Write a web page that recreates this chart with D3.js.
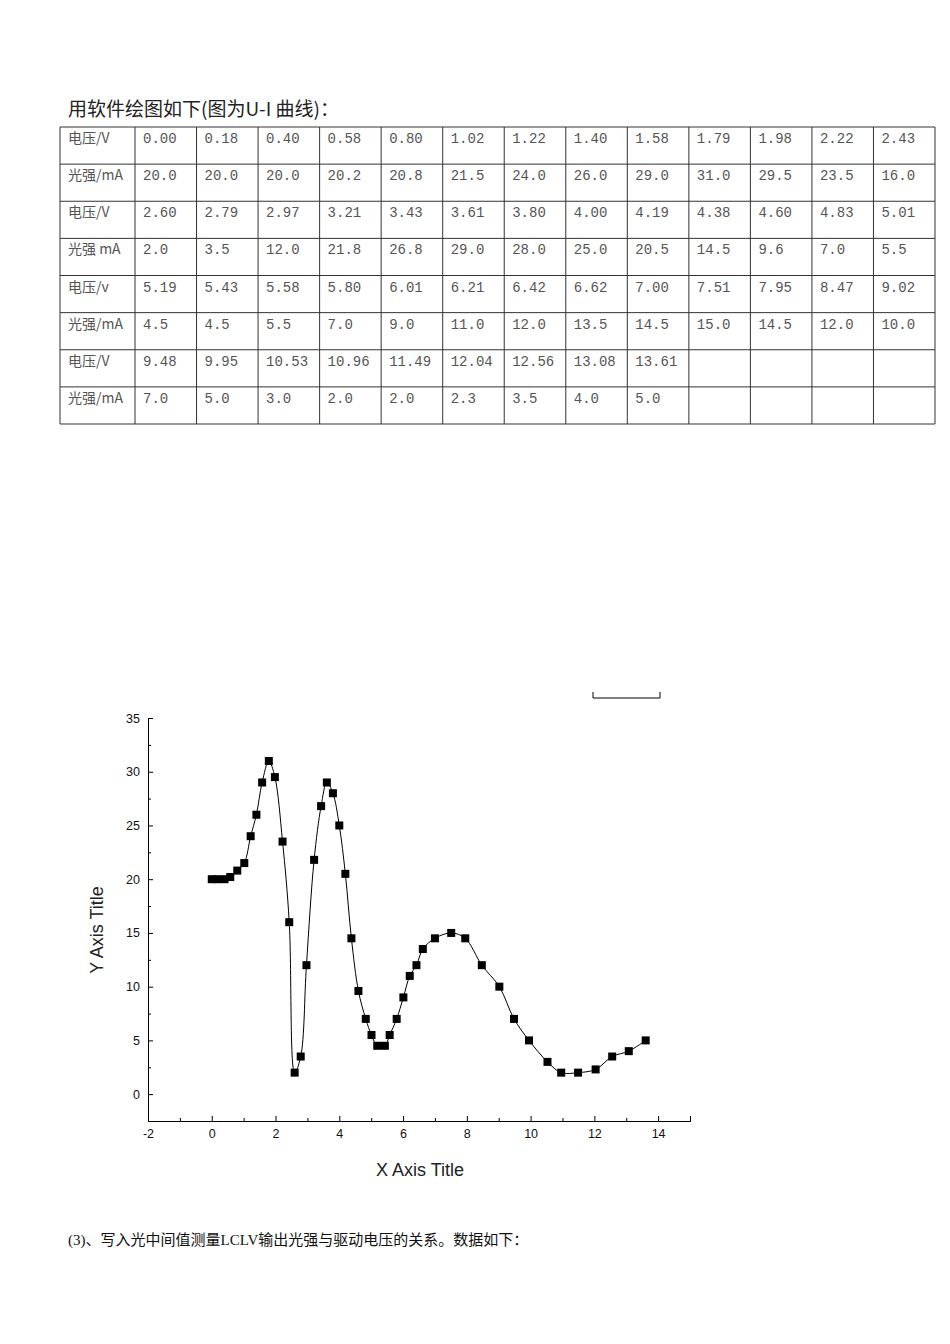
<!DOCTYPE html>
<html><head><meta charset="utf-8">
<script src="https://cdn.jsdelivr.net/npm/d3@7"></script>
<style>body{margin:0;background:#fff}</style>
</head><body>
<svg id="page" width="950" height="1344"></svg>
<script>
// table rows, as printed
const voltRows = [
  ["0.00","0.18","0.40","0.58","0.80","1.02","1.22","1.40","1.58","1.79","1.98","2.22","2.43"],
  ["2.60","2.79","2.97","3.21","3.43","3.61","3.80","4.00","4.19","4.38","4.60","4.83","5.01"],
  ["5.19","5.43","5.58","5.80","6.01","6.21","6.42","6.62","7.00","7.51","7.95","8.47","9.02"],
  ["9.48","9.95","10.53","10.96","11.49","12.04","12.56","13.08","13.61"]
];
const lightRows = [
  ["20.0","20.0","20.0","20.2","20.8","21.5","24.0","26.0","29.0","31.0","29.5","23.5","16.0"],
  ["2.0","3.5","12.0","21.8","26.8","29.0","28.0","25.0","20.5","14.5","9.6","7.0","5.5"],
  ["4.5","4.5","5.5","7.0","9.0","11.0","12.0","13.5","14.5","15.0","14.5","12.0","10.0"],
  ["7.0","5.0","3.0","2.0","2.0","2.3","3.5","4.0","5.0"]
];
const voltLabels = ["电压/V","电压/V","电压/v","电压/V"];
const lightLabels = ["光强/mA","光强 mA","光强/mA","光强/mA"];
const xTicks = [-2,0,2,4,6,8,10,12,14];
const yTicks = [0,5,10,15,20,25,30,35];

const svg = d3.select("#page");
const cjk = "'Noto Sans CJK SC', serif";
const mono = "'Liberation Mono','DejaVu Sans Mono', monospace";

svg.append("text").attr("x",68).attr("y",116).attr("font-family",cjk)
  .attr("font-size",19).attr("fill","#222").text("用软件绘图如下(图为U-I 曲线)：");

// table
const rows = [];
voltRows.forEach((v,i) => { rows.push([voltLabels[i]].concat(v)); rows.push([lightLabels[i]].concat(lightRows[i])); });
const tx = d3.scaleLinear().domain([0,13]).range([135,935]);
const ty = d3.scaleLinear().domain([0,8]).range([127,424]);
const tbl = svg.append("g").attr("stroke","#333").attr("stroke-width",1);
d3.range(9).forEach(r => tbl.append("line").attr("x1",60).attr("x2",935).attr("y1",ty(r)).attr("y2",ty(r)));
tbl.append("line").attr("x1",60).attr("x2",60).attr("y1",ty(0)).attr("y2",ty(8));
d3.range(14).forEach(c => tbl.append("line").attr("x1",tx(c)).attr("x2",tx(c)).attr("y1",ty(0)).attr("y2",ty(8)));
rows.forEach((row,r) => row.forEach((t,c) => {
  svg.append("text").attr("x", c === 0 ? 68 : tx(c-1)+8).attr("y", ty(r)+16)
    .attr("font-family", c === 0 ? cjk : mono).attr("font-size",14).attr("fill","#555").text(t);
}));

// chart
const pts = [];
voltRows.forEach((v,i) => v.forEach((x,j) => pts.push([+x, +lightRows[i][j]])));
const x = d3.scaleLinear().domain([-2,15]).range([148,690]);
const y = d3.scaleLinear().domain([-2.5,35]).range([1121,718]);
const g = svg.append("g");
g.append("g").attr("transform","translate(0,1121)")
  .call(d3.axisBottom(x).tickValues(xTicks).tickFormat(d => String(d)).tickSize(-5).tickPadding(8));
g.append("g").attr("transform","translate(0,1121)")
  .call(d3.axisBottom(x).tickValues(d3.range(-1,16,2)).tickFormat("").tickSize(-3));
g.append("g").attr("transform","translate(148,0)")
  .call(d3.axisLeft(y).tickValues(yTicks).tickSize(-5).tickPadding(8));
g.append("g").attr("transform","translate(148,0)")
  .call(d3.axisLeft(y).tickValues(d3.range(-2.5,35,5)).tickFormat("").tickSize(-3));
g.selectAll(".domain").attr("stroke","#000");
g.selectAll("text").attr("font-family","'Liberation Sans', Arial").attr("font-size",12.5).attr("fill","#111");

g.append("path").datum(pts).attr("fill","none").attr("stroke","#000").attr("stroke-width",1)
  .attr("d", d3.line().x(d=>x(d[0])).y(d=>y(d[1])).curve(d3.curveCatmullRom));
g.selectAll("rect.pt").data(pts).join("rect").attr("class","pt")
  .attr("x",d=>x(d[0])-4).attr("y",d=>y(d[1])-4).attr("width",8).attr("height",8).attr("fill","#000");

svg.append("text").attr("x",420).attr("y",1176).attr("text-anchor","middle")
  .attr("font-family","'Liberation Sans', Arial").attr("font-size",18).attr("fill","#222").text("X Axis Title");
svg.append("text").attr("transform","translate(103,930) rotate(-90)").attr("text-anchor","middle")
  .attr("font-family","'Liberation Sans', Arial").attr("font-size",18).attr("fill","#222").text("Y Axis Title");

// small legend bracket
svg.append("path").attr("d","M593,692V698H660V692").attr("fill","none").attr("stroke","#000");

svg.append("text").attr("x",68).attr("y",1245).attr("font-family","'Liberation Serif', "+cjk)
  .attr("font-size",15).attr("fill","#111").text("(3)、写入光中间值测量LCLV输出光强与驱动电压的关系。数据如下：");
</script>
</body></html>
